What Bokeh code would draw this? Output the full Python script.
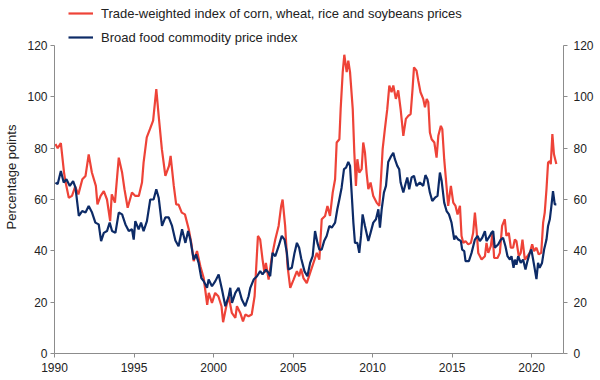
from bokeh.plotting import figure
from bokeh.models import Range1d, LinearAxis, FixedTicker, Legend, LegendItem
from bokeh.embed import file_html
from bokeh.resources import INLINE

# ---- data ----
red_years = [1990.06, 1990.2, 1990.4, 1990.6, 1990.7, 1990.9, 1991.1, 1991.3, 1991.5, 1991.75,
             1991.95, 1992.15, 1992.35, 1992.6, 1992.7, 1992.9, 1993.1, 1993.3, 1993.5, 1993.6,
             1993.8, 1994.04, 1994.25, 1994.4, 1994.6, 1994.87, 1995.08, 1995.3, 1995.5, 1995.6,
             1995.8, 1996.0, 1996.2, 1996.4, 1996.55, 1996.75, 1996.97, 1997.2, 1997.3, 1997.5,
             1997.65, 1997.8, 1998.0, 1998.2, 1998.44, 1998.6, 1998.75, 1998.96, 1999.17, 1999.38,
             1999.6, 1999.7, 1999.9, 2000.1, 2000.3, 2000.5, 2000.6, 2000.8, 2000.95, 2001.15,
             2001.37, 2001.47, 2001.68, 2001.85, 2002.0, 2002.2, 2002.4, 2002.58, 2002.79, 2002.93,
             2003.08, 2003.2, 2003.29, 2003.46, 2003.67, 2003.88, 2004.09, 2004.25, 2004.34, 2004.5,
             2004.65, 2004.82, 2005.03, 2005.24, 2005.38, 2005.5, 2005.65, 2005.86, 2006.07, 2006.28,
             2006.49, 2006.65, 2006.8, 2007.01, 2007.16, 2007.32, 2007.49, 2007.64, 2007.74, 2007.91,
             2007.99, 2008.12, 2008.22, 2008.37, 2008.47, 2008.58, 2008.75, 2008.85, 2008.95, 2009.04,
             2009.16, 2009.31, 2009.41, 2009.52, 2009.62, 2009.73, 2009.87, 2010.04, 2010.25, 2010.42,
             2010.5, 2010.63, 2010.77, 2010.92, 2011.05, 2011.19, 2011.3, 2011.46, 2011.61, 2011.76,
             2011.93, 2012.09, 2012.24, 2012.39, 2012.51, 2012.6, 2012.76, 2012.87, 2013.01, 2013.18,
             2013.29, 2013.4, 2013.5, 2013.6, 2013.71, 2013.88, 2014.02, 2014.13, 2014.29, 2014.38,
             2014.5, 2014.59, 2014.75, 2014.92, 2015.07, 2015.21, 2015.34, 2015.49, 2015.59, 2015.7,
             2015.84, 2016.01, 2016.18, 2016.32, 2016.43, 2016.53, 2016.64, 2016.85, 2017.06, 2017.16,
             2017.27, 2017.43, 2017.54, 2017.64, 2017.85, 2018.0, 2018.14, 2018.31, 2018.41, 2018.56,
             2018.69, 2018.83, 2018.94, 2019.04, 2019.19, 2019.31, 2019.42, 2019.57, 2019.73, 2019.88,
             2020.03, 2020.15, 2020.3, 2020.44, 2020.6, 2020.72, 2020.82, 2020.93, 2021.03, 2021.14,
             2021.2, 2021.3, 2021.4, 2021.55]
red_values = [81.6, 80, 82, 70.5, 66.6, 60.7, 61.4, 65, 62, 67.9,
              69.2, 77.6, 70.5, 65.3, 58.1, 61.4, 63.3, 60, 51.6, 62,
              58.8, 76.3, 70.5, 64, 56.8, 62.7, 61.4, 61.4, 66.6, 74.4,
              84.2, 87.4, 90.7, 103, 92.6, 79.6, 69.2, 73.1, 77, 65.3,
              58.1, 58, 54.9, 54.2, 48.4, 43.1, 36, 39.9, 34, 29.4,
              19, 23.6, 19.7, 23.6, 22.3, 18.4, 12.2, 18.4, 22.3, 15.8,
              13.9, 18.4, 15.8, 12.5, 15.2, 14.5, 15.2, 22.3, 45.8, 44.4,
              36.6, 31.4, 35.3, 28.8, 37.9, 44.4, 49.7, 57.5, 60, 49.7,
              34, 25.6, 28.8, 32.1, 30.1, 33, 29.4, 27.4, 31.4, 35.3,
              39.2, 36.6, 52.3, 53.6, 57.5, 53.6, 62.7, 67.9, 82.2, 83.5,
              95.2, 109.6, 116.4, 109.6, 114.1, 109.6, 95.2, 78.2, 65.3, 75.7,
              70.5, 71.8, 82.2, 78.2, 70.5, 64, 66.6, 61.4, 58.8, 57.5,
              65.3, 79.6, 87.4, 95.2, 104.4, 101.8, 104.4, 99.2, 102.5, 95.2,
              84.8, 91.4, 92.6, 93.3, 103, 111.5, 110.2, 106.3, 101.8, 99.2,
              95.9, 99.2, 97.9, 86.1, 83.5, 82.2, 76.3, 84.8, 88.7, 87.4,
              75.7, 69.2, 57.5, 65.3, 58.8, 57.5, 54.2, 57.5, 45.8, 43.1,
              43.8, 42.5, 43.1, 47, 54.9, 48.4, 39.2, 36.6, 37.9, 43.1,
              39.2, 41.8, 47, 37.2, 37.2, 39.2, 49.7, 52.3, 45.8, 47,
              41.2, 41.2, 44.4, 43.8, 37.9, 39.2, 44.4, 36.6, 37.9, 39.2,
              42.5, 39.9, 41.2, 38.6, 39.2, 51, 54.9, 64, 74.4, 75,
              73.8, 85.5, 77.6, 73.8]

blue_years = [1990.06, 1990.2, 1990.4, 1990.58, 1990.75, 1990.96, 1991.17, 1991.32, 1991.53, 1991.74,
              1991.95, 1992.15, 1992.36, 1992.57, 1992.78, 1992.93, 1993.1, 1993.3, 1993.47, 1993.62,
              1993.83, 1994.04, 1994.25, 1994.46, 1994.67, 1994.87, 1994.98, 1995.08, 1995.29, 1995.44,
              1995.6, 1995.81, 1996.02, 1996.23, 1996.4, 1996.55, 1996.76, 1996.97, 1997.18, 1997.39,
              1997.6, 1997.8, 1998.02, 1998.23, 1998.4, 1998.54, 1998.75, 1998.9, 1999.06, 1999.23,
              1999.38, 1999.59, 1999.69, 1999.9, 2000.11, 2000.32, 2000.53, 2000.74, 2000.95, 2001.05,
              2001.16, 2001.37, 2001.57, 2001.78, 2001.99, 2002.2, 2002.31, 2002.52, 2002.73, 2002.93,
              2003.08, 2003.29, 2003.46, 2003.56, 2003.71, 2003.88, 2004.09, 2004.29, 2004.46, 2004.61,
              2004.71, 2004.92, 2005.09, 2005.24, 2005.38, 2005.51, 2005.72, 2005.9, 2006.07, 2006.23,
              2006.38, 2006.53, 2006.65, 2006.8, 2006.95, 2007.11, 2007.28, 2007.43, 2007.64, 2007.78,
              2007.91, 2008.05, 2008.2, 2008.33, 2008.47, 2008.58, 2008.68, 2008.79, 2008.89, 2009.04,
              2009.16, 2009.27, 2009.37, 2009.52, 2009.73, 2009.87, 2010.04, 2010.21, 2010.36, 2010.46,
              2010.57, 2010.71, 2010.84, 2010.98, 2011.13, 2011.3, 2011.4, 2011.55, 2011.67, 2011.76,
              2011.93, 2012.09, 2012.18, 2012.3, 2012.45, 2012.6, 2012.76, 2012.97, 2013.18, 2013.32,
              2013.45, 2013.6, 2013.75, 2013.92, 2014.08, 2014.23, 2014.34, 2014.5, 2014.65, 2014.8,
              2014.96, 2015.13, 2015.21, 2015.38, 2015.55, 2015.63, 2015.76, 2015.84, 2016.05, 2016.22,
              2016.43, 2016.6, 2016.74, 2016.89, 2017.06, 2017.16, 2017.37, 2017.47, 2017.58, 2017.68,
              2017.89, 2018.06, 2018.2, 2018.35, 2018.48, 2018.63, 2018.73, 2018.86, 2018.94, 2019.04,
              2019.15, 2019.31, 2019.46, 2019.61, 2019.73, 2019.88, 2019.98, 2020.09, 2020.2, 2020.3,
              2020.4, 2020.5, 2020.65, 2020.78, 2020.93, 2021.03, 2021.14, 2021.24, 2021.34, 2021.45,
              2021.55]
blue_values = [66.6, 66, 71.1, 66.6, 67.9, 65.3, 67.2, 64.6, 53.6, 55.5,
               54.9, 57.5, 54.9, 51, 50.3, 43.8, 47, 47.7, 51, 47.7,
               47, 54.9, 54.2, 50.3, 47.7, 48.4, 44.4, 51.6, 48.4, 51,
               47.7, 51.6, 60, 60, 64, 60.7, 49.7, 53, 53, 49.7,
               44, 41.8, 48.4, 43.1, 47.7, 44.4, 36.6, 38.6, 35.3, 29.4,
               28.2, 25.6, 28.8, 26.2, 28.2, 30.8, 24.9, 18.4, 22.3, 25.6,
               19.7, 23.6, 25.6, 21, 18.4, 22.3, 25.6, 28.8, 30.1, 32.1,
               30.8, 32.7, 31.4, 30.1, 39.2, 37.9, 41.8, 45.8, 44.4, 39.2,
               32.7, 33.4, 39.2, 43.1, 41.2, 37, 32, 30.1, 35.3, 37.9,
               47.7, 43.1, 40.5, 40.5, 43.8, 45.8, 49.7, 49, 51, 56.2,
               60.1, 64.6, 71.8, 72.4, 74.6, 73.1, 62.7, 51, 43.1, 43.1,
               39.2, 45.8, 54.2, 49.7, 43.8, 47, 51, 52.3, 56.2, 49,
               56.2, 62.7, 65.3, 74.6, 76.5, 78.2, 75.7, 73.1, 71.8, 66.6,
               62.7, 66.6, 68.6, 64, 68.6, 69.2, 65.3, 66.6, 65.3, 69.5,
               67.9, 62.7, 59.4, 60.7, 61.4, 70.5, 67.2, 58.8, 55.5, 54.2,
               51, 44.4, 45.8, 44.4, 43.8, 40.5, 39.9, 36, 36, 39.2,
               44.4, 45.8, 43.8, 45.1, 47.7, 43.8, 45.8, 47, 47.7, 41.2,
               42.5, 44.4, 45.1, 41.8, 37.9, 36.6, 37.9, 33.4, 36.6, 34.6,
               37.9, 35.3, 36.6, 32.7, 35.9, 39.2, 40.5, 36.6, 32.7, 29,
               35.3, 33.4, 35.3, 40.5, 44.4, 49.7, 52.3, 57.5, 63.3, 58.1,
               58.1]

x_ticks = [1990, 1995, 2000, 2005, 2010, 2015, 2020]
y_ticks = [0, 20, 40, 60, 80, 100, 120]
red_label = "Trade-weighted index of corn, wheat, rice and soybeans prices"
blue_label = "Broad food commodity price index"

RED = "#EE4338"
BLUE = "#0D2B67"
AXIS = "#8C8C8C"
TXT = "#222222"
FONT = "Liberation Sans"

# frame spans the full height above the x axis; the value axis itself is bounded to 0-120
Y_TOP = 120 * 353 / 308

p = figure(width=600, height=380, output_backend="svg", toolbar_location=None,
           x_range=Range1d(1990, 2022), y_range=Range1d(0, Y_TOP),
           min_border_left=54, min_border_right=37, min_border_top=0, min_border_bottom=27)
p.outline_line_color = None
p.xgrid.visible = False
p.ygrid.visible = False
p.background_fill_color = "white"
p.border_fill_color = "white"

r1 = p.line(red_years, red_values, color=RED, line_width=2.2)
r2 = p.line(blue_years, blue_values, color=BLUE, line_width=2.2)

def style_axis(ax):
    ax.axis_line_color = AXIS
    ax.major_tick_line_color = AXIS
    ax.minor_tick_line_color = None
    ax.major_tick_in = 0
    ax.major_label_text_font = FONT
    ax.major_label_text_font_size = "12px"
    ax.major_label_text_color = TXT

xa = p.xaxis[0]
xa.ticker = FixedTicker(ticks=x_ticks)
style_axis(xa)
xa.major_tick_out = 4
xa.major_label_standoff = 5

ya = p.yaxis[0]
ya.ticker = FixedTicker(ticks=y_ticks)
ya.bounds = (0, 120)
style_axis(ya)
ya.major_tick_out = 4
ya.major_label_standoff = 3
ya.axis_label = "Percentage points"
ya.axis_label_text_font = FONT
ya.axis_label_text_font_size = "13px"
ya.axis_label_text_font_style = "normal"
ya.axis_label_text_color = TXT
ya.axis_label_standoff = 5

yr = LinearAxis(ticker=FixedTicker(ticks=y_ticks), bounds=(0, 120))
style_axis(yr)
yr.major_tick_out = 4
yr.major_label_standoff = 6
p.add_layout(yr, "right")

legend = Legend(items=[LegendItem(label=red_label, renderers=[r1]),
                       LegendItem(label=blue_label, renderers=[r2])],
                location=(14, 308), orientation="vertical",
                label_text_font=FONT, label_text_font_size="13px", label_text_color=TXT,
                glyph_width=25, glyph_height=16, label_height=16, label_standoff=8,
                spacing=8, padding=0, margin=0,
                border_line_color=None, background_fill_alpha=0)
p.add_layout(legend, "center")

open("out.html", "w").write(file_html(p, INLINE))
